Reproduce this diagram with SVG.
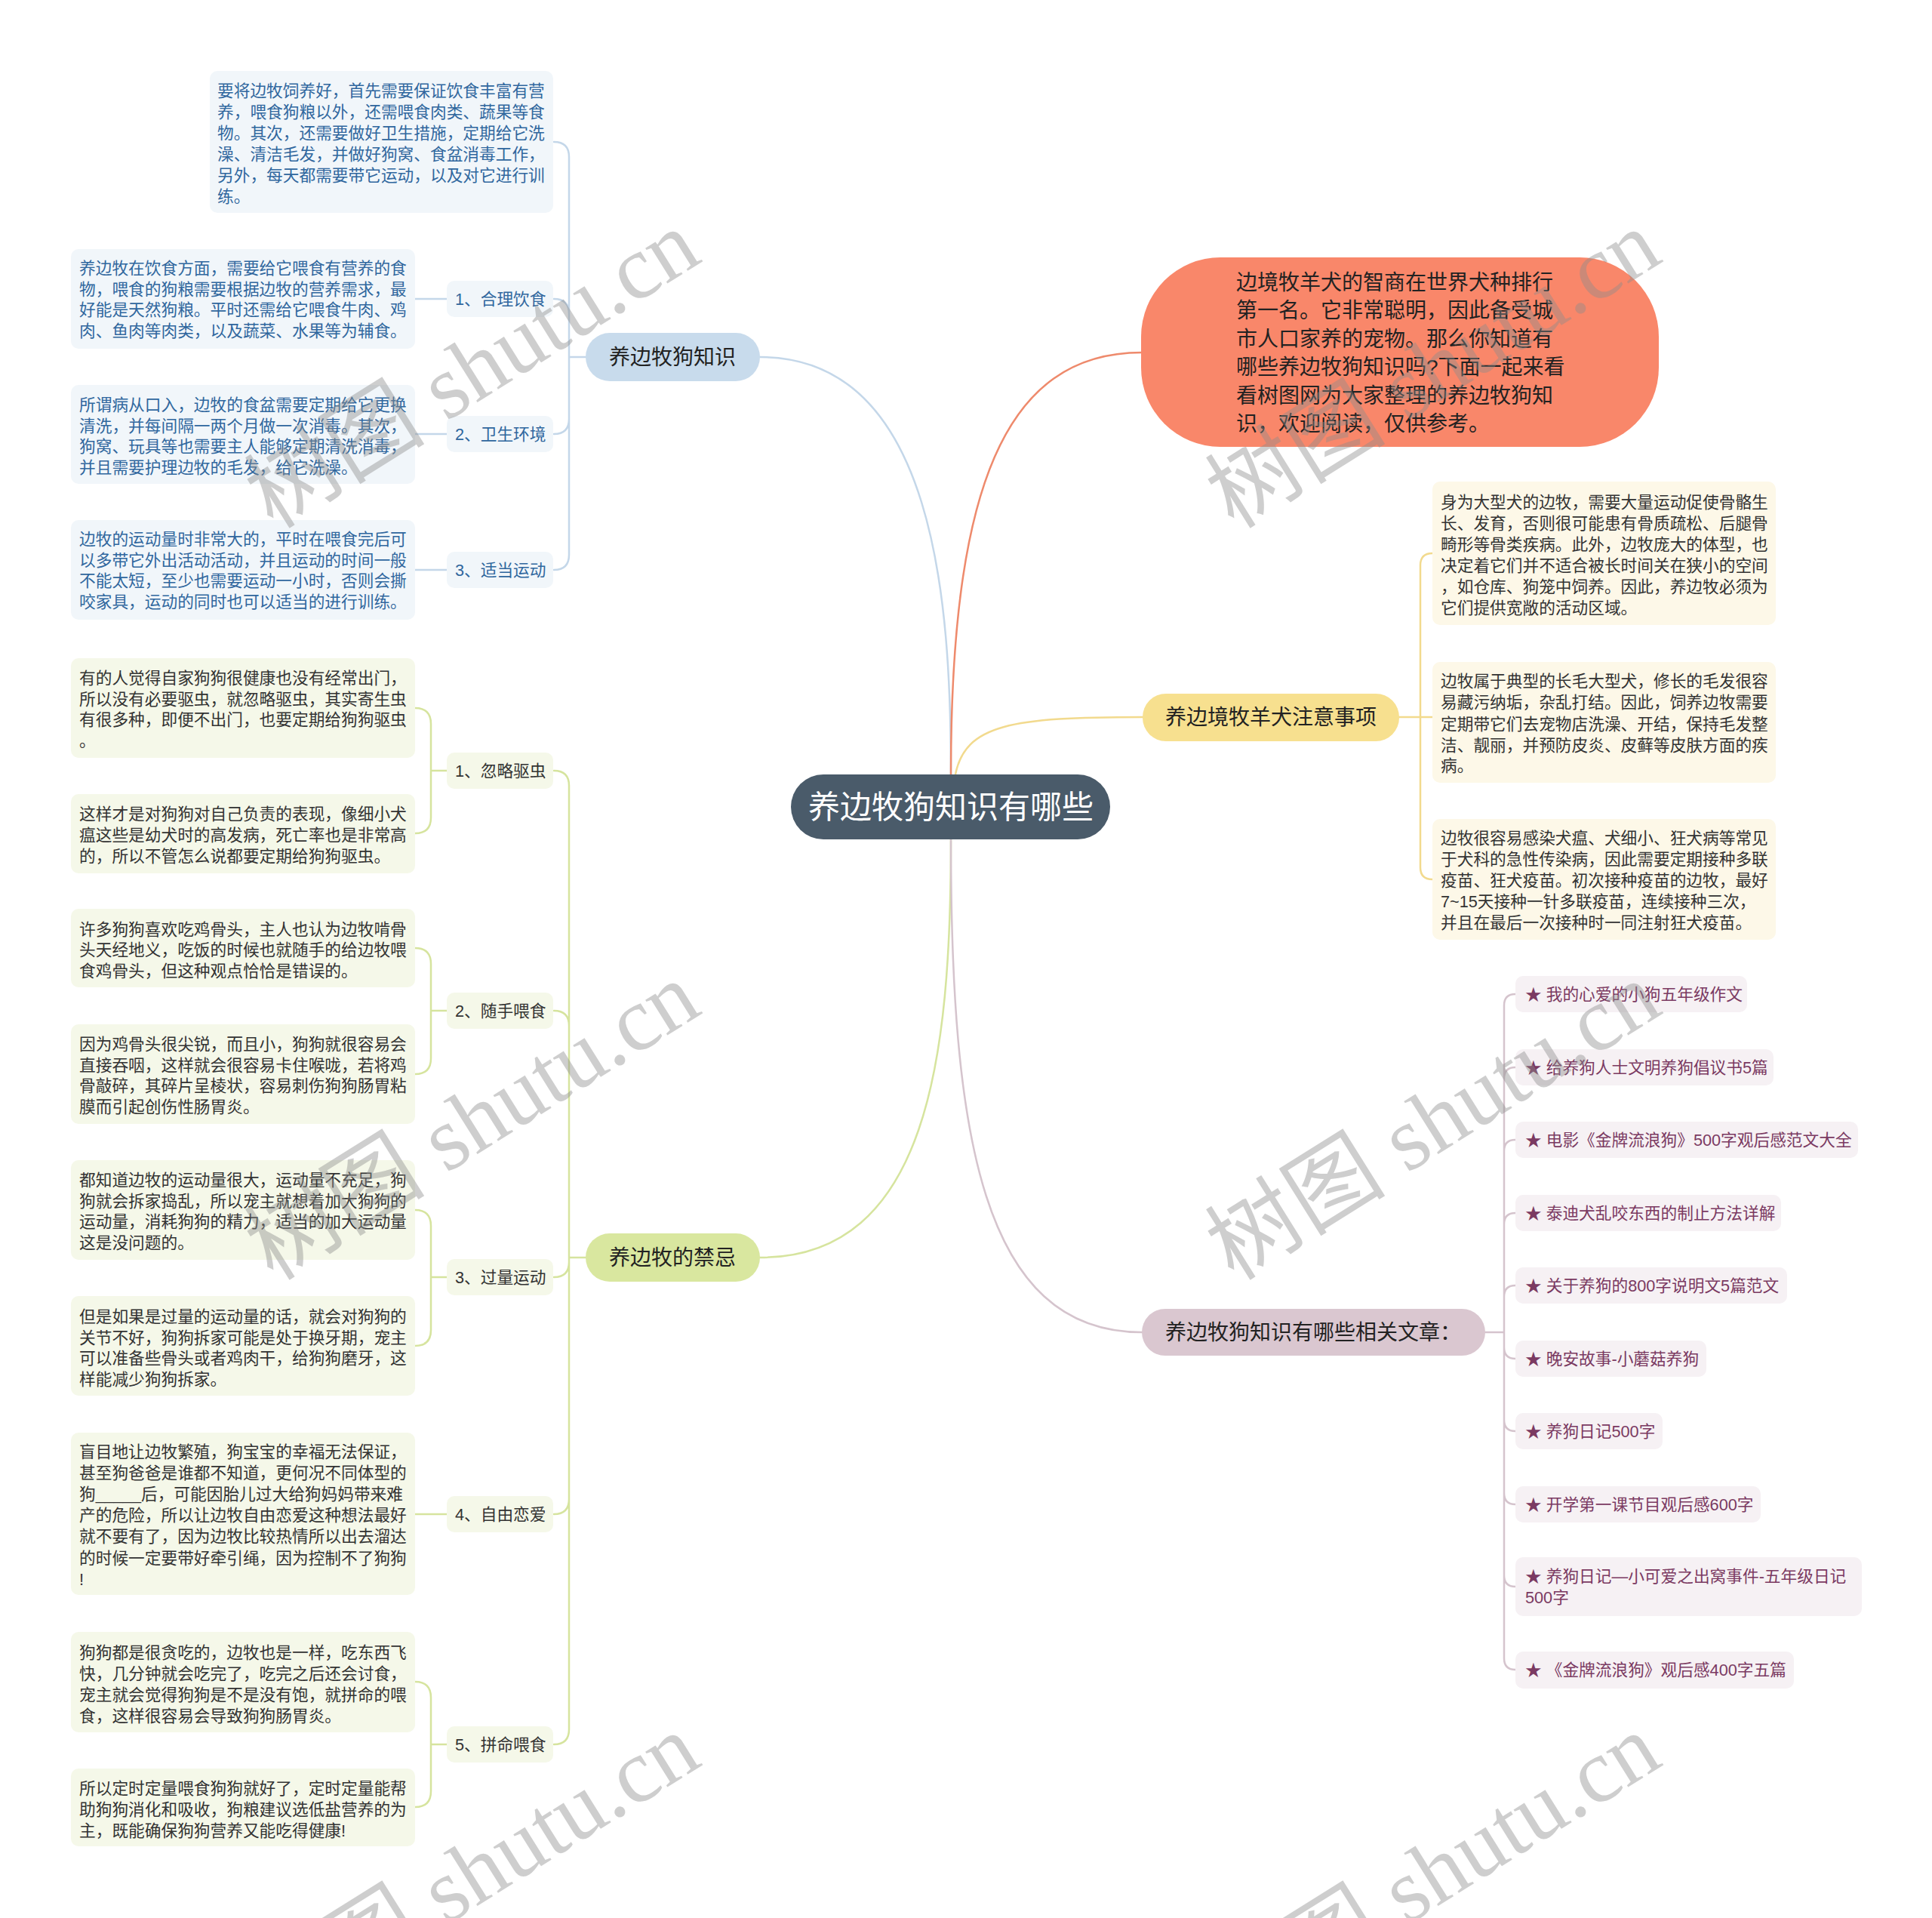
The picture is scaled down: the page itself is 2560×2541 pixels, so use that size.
<svg xmlns="http://www.w3.org/2000/svg" width="2560" height="2541" viewBox="0 0 2560 2541">
<style>
text{font-family:"Liberation Sans","Noto Sans CJK SC",sans-serif}
.s{font-size:21.7px}
.m{font-size:28px;fill:#222}
.bt{fill:#30679e}
.dt{fill:#333}
.pt{fill:#7b3a62}
.bb{fill:#f1f6fa}
.gb{fill:#f5f8e9}
.yb{fill:#fdf8e8}
.pb{fill:#f6f1f4}
.c{fill:none;stroke-width:2.5;stroke-linecap:round}
.cb{stroke:#c4d7e9}.cg{stroke:#d6e49e}.cy{stroke:#f2da8e}.co{stroke:#ee8a6c}.cp{stroke:#d5c4cd}
.wm{font-family:"Liberation Serif","Noto Sans CJK SC",serif;font-size:120px;fill:#8c8c8c;opacity:.42}
</style>
<rect width="2560" height="2541" fill="#fff"/>
<g id="connectors">
<path class="c cb" stroke-width="3" d="M1260 1026C1260 800 1240 473 1007 473"/>
<path class="c co" stroke-width="3" d="M1260 1026C1260 650 1330 467 1513 467"/>
<path class="c cy" stroke-width="3" d="M1266 1026C1279 960 1340 950 1514 950"/>
<path class="c cg" stroke-width="3" d="M1260 1112C1260 1400 1230 1666 1007 1666"/>
<path class="c cp" stroke-width="3" d="M1260 1112C1260 1500 1300 1765 1513 1765"/>
<path class="c cb" d="M776 473H754M754 473V208Q754 188 734 188M754 473V416Q754 396 734 396M754 473V555Q754 575 734 575M754 473V735Q754 755 734 755M550 396H592M550 575H592M550 755H592"/>
<path class="c cg" d="M776 1666H754M754 1666V1041Q754 1021 734 1021M754 1666V1359Q754 1339 734 1339M754 1666V1672Q754 1692 734 1692M754 1666V1986Q754 2006 734 2006M754 1666V2291Q754 2311 734 2311"/>
<path class="c cg" d="M550 938Q571 938 571 959V1083Q571 1104 550 1104M571 1021H592M550 1256Q571 1256 571 1277V1402Q571 1423 550 1423M571 1339H592M550 1603Q571 1603 571 1624V1762Q571 1783 550 1783M571 1692H592M550 2006H592M550 2228Q571 2228 571 2249V2373Q571 2394 550 2394M571 2311H592"/>
<path class="c cy" d="M1854 950H1898M1882 950V749Q1882 733 1898 733M1882 950V1149Q1882 1165 1898 1165"/>
<path class="c cp" d="M1968 1765H1993M1993 1765V1332Q1993 1317 2008 1317M1993 1765V1429Q1993 1414 2008 1414M1993 1765V1525Q1993 1510 2008 1510M1993 1765V1622Q1993 1607 2008 1607M1993 1765V1718Q1993 1703 2008 1703M1993 1765V1785Q1993 1800 2008 1800M1993 1765V1881Q1993 1896 2008 1896M1993 1765V1978Q1993 1993 2008 1993M1993 1765V2087Q1993 2102 2008 2102M1993 1765V2197Q1993 2212 2008 2212"/>
</g>
<g id="center">
<rect x="1048" y="1026" width="423" height="86" rx="43" fill="#4a5b6a"/>
<text x="1260" y="1084" font-size="42" fill="#fff" text-anchor="middle">养边牧狗知识有哪些</text>
</g>
<g id="intro">
<rect x="1512" y="341" width="686" height="251" rx="105" fill="#f9876a"/>
<text class="m" x="1638"><tspan x="1638" y="384">边境牧羊犬的智商在世界犬种排行</tspan><tspan x="1638" y="421">第一名。它非常聪明，因此备受城</tspan><tspan x="1638" y="459">市人口家养的宠物。那么你知道有</tspan><tspan x="1638" y="496">哪些养边牧狗知识吗?下面一起来看</tspan><tspan x="1638" y="534">看树图网为大家整理的养边牧狗知</tspan><tspan x="1638" y="571">识，欢迎阅读，仅供参考。</tspan></text>
</g>
<g id="b1">
<rect x="776" y="441" width="231" height="64" rx="32" fill="#c8dbec"/>
<text class="m" x="891" y="483" text-anchor="middle">养边牧狗知识</text>
</g>
<g id="b1-summary">
<rect class="bb" x="278" y="94" width="455" height="188" rx="10"/>
<text class="s bt"><tspan x="288" y="128">要将边牧饲养好，首先需要保证饮食丰富有营</tspan><tspan x="288" y="156">养，喂食狗粮以外，还需喂食肉类、蔬果等食</tspan><tspan x="288" y="184">物。其次，还需要做好卫生措施，定期给它洗</tspan><tspan x="288" y="212">澡、清洁毛发，并做好狗窝、食盆消毒工作，</tspan><tspan x="288" y="240">另外，每天都需要带它运动，以及对它进行训</tspan><tspan x="288" y="268">练。</tspan></text>
</g>
<g id="b1-1">
<rect class="bb" x="592" y="372" width="141" height="48" rx="10"/>
<text class="s bt" x="603" y="404">1、合理饮食</text>
<rect class="bb" x="94" y="330" width="456" height="132" rx="10"/>
<text class="s bt"><tspan x="105" y="363">养边牧在饮食方面，需要给它喂食有营养的食</tspan><tspan x="105" y="391">物，喂食的狗粮需要根据边牧的营养需求，最</tspan><tspan x="105" y="418">好能是天然狗粮。平时还需给它喂食牛肉、鸡</tspan><tspan x="105" y="446">肉、鱼肉等肉类，以及蔬菜、水果等为辅食。</tspan></text>
</g>
<g id="b1-2">
<rect class="bb" x="592" y="551" width="141" height="48" rx="10"/>
<text class="s bt" x="603" y="583">2、卫生环境</text>
<rect class="bb" x="94" y="510" width="456" height="131" rx="10"/>
<text class="s bt"><tspan x="105" y="544">所谓病从口入，边牧的食盆需要定期给它更换</tspan><tspan x="105" y="572">清洗，并每间隔一两个月做一次消毒。其次，</tspan><tspan x="105" y="599">狗窝、玩具等也需要主人能够定期清洗消毒，</tspan><tspan x="105" y="627">并且需要护理边牧的毛发，给它洗澡。</tspan></text>
</g>
<g id="b1-3">
<rect class="bb" x="592" y="731" width="141" height="48" rx="10"/>
<text class="s bt" x="603" y="763">3、适当运动</text>
<rect class="bb" x="94" y="689" width="456" height="132" rx="10"/>
<text class="s bt"><tspan x="105" y="722">边牧的运动量时非常大的，平时在喂食完后可</tspan><tspan x="105" y="750">以多带它外出活动活动，并且运动的时间一般</tspan><tspan x="105" y="777">不能太短，至少也需要运动一小时，否则会撕</tspan><tspan x="105" y="805">咬家具，运动的同时也可以适当的进行训练。</tspan></text>
</g>
<g id="b2">
<rect x="776" y="1634" width="231" height="64" rx="32" fill="#d9e79f"/>
<text class="m" x="891" y="1676" text-anchor="middle">养边牧的禁忌</text>
</g>
<g id="b2-1">
<rect class="gb" x="592" y="997" width="141" height="48" rx="10"/>
<text class="s dt" x="603" y="1029">1、忽略驱虫</text>
<rect class="gb" x="94" y="872" width="456" height="132" rx="10"/>
<text class="s dt"><tspan x="105" y="906">有的人觉得自家狗狗很健康也没有经常出门，</tspan><tspan x="105" y="934">所以没有必要驱虫，就忽略驱虫，其实寄生虫</tspan><tspan x="105" y="961">有很多种，即便不出门，也要定期给狗狗驱虫</tspan><tspan x="105" y="989">。</tspan></text>
<rect class="gb" x="94" y="1052" width="456" height="105" rx="10"/>
<text class="s dt"><tspan x="105" y="1086">这样才是对狗狗对自己负责的表现，像细小犬</tspan><tspan x="105" y="1114">瘟这些是幼犬时的高发病，死亡率也是非常高</tspan><tspan x="105" y="1142">的，所以不管怎么说都要定期给狗狗驱虫。</tspan></text>
</g>
<g id="b2-2">
<rect class="gb" x="592" y="1315" width="141" height="48" rx="10"/>
<text class="s dt" x="603" y="1347">2、随手喂食</text>
<rect class="gb" x="94" y="1204" width="456" height="104" rx="10"/>
<text class="s dt"><tspan x="105" y="1239">许多狗狗喜欢吃鸡骨头，主人也认为边牧啃骨</tspan><tspan x="105" y="1266">头天经地义，吃饭的时候也就随手的给边牧喂</tspan><tspan x="105" y="1294">食鸡骨头，但这种观点恰恰是错误的。</tspan></text>
<rect class="gb" x="94" y="1357" width="456" height="132" rx="10"/>
<text class="s dt"><tspan x="105" y="1391">因为鸡骨头很尖锐，而且小，狗狗就很容易会</tspan><tspan x="105" y="1419">直接吞咽，这样就会很容易卡住喉咙，若将鸡</tspan><tspan x="105" y="1446">骨敲碎，其碎片呈棱状，容易刺伤狗狗肠胃粘</tspan><tspan x="105" y="1474">膜而引起创伤性肠胃炎。</tspan></text>
</g>
<g id="b2-3">
<rect class="gb" x="592" y="1668" width="141" height="48" rx="10"/>
<text class="s dt" x="603" y="1700">3、过量运动</text>
<rect class="gb" x="94" y="1537" width="456" height="132" rx="10"/>
<text class="s dt"><tspan x="105" y="1571">都知道边牧的运动量很大，运动量不充足，狗</tspan><tspan x="105" y="1599">狗就会拆家捣乱，所以宠主就想着加大狗狗的</tspan><tspan x="105" y="1626">运动量，消耗狗狗的精力，适当的加大运动量</tspan><tspan x="105" y="1654">这是没问题的。</tspan></text>
<rect class="gb" x="94" y="1717" width="456" height="132" rx="10"/>
<text class="s dt"><tspan x="105" y="1752">但是如果是过量的运动量的话，就会对狗狗的</tspan><tspan x="105" y="1780">关节不好，狗狗拆家可能是处于换牙期，宠主</tspan><tspan x="105" y="1807">可以准备些骨头或者鸡肉干，给狗狗磨牙，这</tspan><tspan x="105" y="1835">样能减少狗狗拆家。</tspan></text>
</g>
<g id="b2-4">
<rect class="gb" x="592" y="1982" width="141" height="48" rx="10"/>
<text class="s dt" x="603" y="2014">4、自由恋爱</text>
<rect class="gb" x="94" y="1898" width="456" height="215" rx="10"/>
<text class="s dt"><tspan x="105" y="1931">盲目地让边牧繁殖，狗宝宝的幸福无法保证，</tspan><tspan x="105" y="1959">甚至狗爸爸是谁都不知道，更何况不同体型的</tspan><tspan x="105" y="1987">狗_____后，可能因胎儿过大给狗妈妈带来难</tspan><tspan x="105" y="2015">产的危险，所以让边牧自由恋爱这种想法最好</tspan><tspan x="105" y="2043">就不要有了，因为边牧比较热情所以出去溜达</tspan><tspan x="105" y="2072">的时候一定要带好牵引绳，因为控制不了狗狗</tspan><tspan x="105" y="2100">!</tspan></text>
</g>
<g id="b2-5">
<rect class="gb" x="592" y="2287" width="141" height="48" rx="10"/>
<text class="s dt" x="603" y="2319">5、拼命喂食</text>
<rect class="gb" x="94" y="2162" width="456" height="133" rx="10"/>
<text class="s dt"><tspan x="105" y="2197">狗狗都是很贪吃的，边牧也是一样，吃东西飞</tspan><tspan x="105" y="2225">快，几分钟就会吃完了，吃完之后还会讨食，</tspan><tspan x="105" y="2253">宠主就会觉得狗狗是不是没有饱，就拼命的喂</tspan><tspan x="105" y="2281">食，这样很容易会导致狗狗肠胃炎。</tspan></text>
<rect class="gb" x="94" y="2343" width="456" height="103" rx="10"/>
<text class="s dt"><tspan x="105" y="2377">所以定时定量喂食狗狗就好了，定时定量能帮</tspan><tspan x="105" y="2405">助狗狗消化和吸收，狗粮建议选低盐营养的为</tspan><tspan x="105" y="2433">主，既能确保狗狗营养又能吃得健康!</tspan></text>
</g>
<g id="b3">
<rect x="1514" y="919" width="340" height="63" rx="31" fill="#f7e08f"/>
<text class="m" x="1684" y="960" text-anchor="middle">养边境牧羊犬注意事项</text>
</g>
<g id="b3-children">
<rect class="yb" x="1898" y="638" width="455" height="190" rx="10"/>
<text class="s dt"><tspan x="1909" y="673">身为大型犬的边牧，需要大量运动促使骨骼生</tspan><tspan x="1909" y="701">长、发育，否则很可能患有骨质疏松、后腿骨</tspan><tspan x="1909" y="729">畸形等骨类疾病。此外，边牧庞大的体型，也</tspan><tspan x="1909" y="757">决定着它们并不适合被长时间关在狭小的空间</tspan><tspan x="1909" y="785">，如仓库、狗笼中饲养。因此，养边牧必须为</tspan><tspan x="1909" y="813">它们提供宽敞的活动区域。</tspan></text>
<rect class="yb" x="1898" y="877" width="455" height="160" rx="10"/>
<text class="s dt"><tspan x="1909" y="910">边牧属于典型的长毛大型犬，修长的毛发很容</tspan><tspan x="1909" y="938">易藏污纳垢，杂乱打结。因此，饲养边牧需要</tspan><tspan x="1909" y="967">定期带它们去宠物店洗澡、开结，保持毛发整</tspan><tspan x="1909" y="995">洁、靓丽，并预防皮炎、皮藓等皮肤方面的疾</tspan><tspan x="1909" y="1022">病。</tspan></text>
<rect class="yb" x="1898" y="1085" width="455" height="160" rx="10"/>
<text class="s dt"><tspan x="1909" y="1118">边牧很容易感染犬瘟、犬细小、狂犬病等常见</tspan><tspan x="1909" y="1146">于犬科的急性传染病，因此需要定期接种多联</tspan><tspan x="1909" y="1174">疫苗、狂犬疫苗。初次接种疫苗的边牧，最好</tspan><tspan x="1909" y="1202">7~15天接种一针多联疫苗，连续接种三次，</tspan><tspan x="1909" y="1230">并且在最后一次接种时一同注射狂犬疫苗。</tspan></text>
</g>
<g id="b4">
<rect x="1513" y="1734" width="455" height="62" rx="31" fill="#dac7d0"/>
<text class="m" x="1740" y="1775" text-anchor="middle">养边牧狗知识有哪些相关文章：</text>
</g>
<g id="b4-links">
<rect class="pb" x="2008" y="1293" width="307" height="48" rx="10"/>
<text class="s pt" x="2021" y="1325">★ 我的心爱的小狗五年级作文</text>
<rect class="pb" x="2008" y="1390" width="342" height="48" rx="10"/>
<text class="s pt" x="2021" y="1422">★ 给养狗人士文明养狗倡议书5篇</text>
<rect class="pb" x="2008" y="1486" width="454" height="48" rx="10"/>
<text class="s pt" x="2021" y="1518">★ 电影《金牌流浪狗》500字观后感范文大全</text>
<rect class="pb" x="2008" y="1583" width="352" height="48" rx="10"/>
<text class="s pt" x="2021" y="1615">★ 泰迪犬乱咬东西的制止方法详解</text>
<rect class="pb" x="2008" y="1679" width="360" height="48" rx="10"/>
<text class="s pt" x="2021" y="1711">★ 关于养狗的800字说明文5篇范文</text>
<rect class="pb" x="2008" y="1776" width="253" height="48" rx="10"/>
<text class="s pt" x="2021" y="1808">★ 晚安故事-小蘑菇养狗</text>
<rect class="pb" x="2008" y="1872" width="195" height="48" rx="10"/>
<text class="s pt" x="2021" y="1904">★ 养狗日记500字</text>
<rect class="pb" x="2008" y="1969" width="325" height="48" rx="10"/>
<text class="s pt" x="2021" y="2001">★ 开学第一课节目观后感600字</text>
<rect class="pb" x="2008" y="2063" width="459" height="78" rx="10"/>
<text class="s pt"><tspan x="2021" y="2096">★ 养狗日记—小可爱之出窝事件-五年级日记</tspan><tspan x="2021" y="2124">500字</tspan></text>
<rect class="pb" x="2008" y="2188" width="369" height="49" rx="10"/>
<text class="s pt" x="2021" y="2220">★ 《金牌流浪狗》观后感400字五篇</text>
</g>
<g id="watermarks">
<text class="wm" transform="translate(362 702) rotate(-32)">树图 shutu.cn</text>
<text class="wm" transform="translate(362 1698) rotate(-32)">树图 shutu.cn</text>
<text class="wm" transform="translate(362 2694) rotate(-32)">树图 shutu.cn</text>
<text class="wm" transform="translate(1635 702) rotate(-32)">树图 shutu.cn</text>
<text class="wm" transform="translate(1635 1698) rotate(-32)">树图 shutu.cn</text>
<text class="wm" transform="translate(1635 2694) rotate(-32)">树图 shutu.cn</text>
</g>
</svg>
